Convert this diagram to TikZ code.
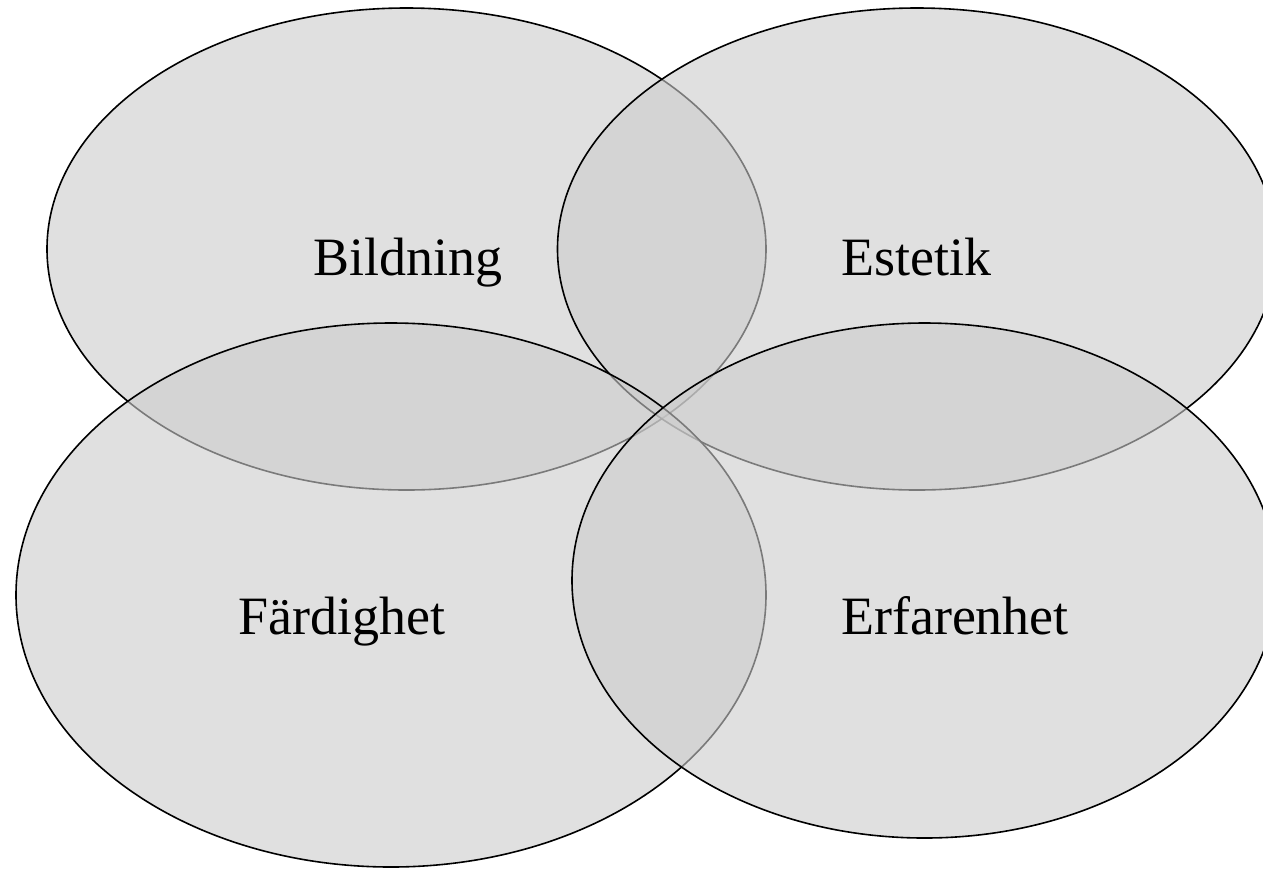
\documentclass[tikz,border=0pt]{standalone}
\usepackage{fontspec}
\setmainfont{Liberation Serif}
\definecolor{vennfill}{RGB}{204,204,204}
\tikzset{
  venn/.style={draw=black, line width=0.8pt, fill=vennfill, fill opacity=0.6},
  vlabel/.style={anchor=base, inner sep=0pt, font=\fontsize{27}{32}\selectfont, text=black}
}
\begin{document}
\begin{tikzpicture}[x=0.5pt, y=-0.5pt]
  \useasboundingbox (0,0) rectangle (1263,869);
  \clip (0,0) rectangle (1263,869);
  \path[venn] (406.5,249) ellipse [x radius=359.5, y radius=241];
  \path[venn] (917,249) ellipse [x radius=359.5, y radius=241];
  \path[venn] (391,595) ellipse [x radius=375, y radius=272];
  \path[venn] (924.5,580.5) ellipse [x radius=352.5, y radius=257.5];
  \node[vlabel] (bildning) at (408,275) {Bildning};
  \node[vlabel] (estetik) at (916,275) {Estetik};
  \node[vlabel] (fardighet) at (342,634) {Färdighet};
  \node[vlabel] (erfarenhet) at (955,634) {Erfarenhet};
\end{tikzpicture}
\end{document}
